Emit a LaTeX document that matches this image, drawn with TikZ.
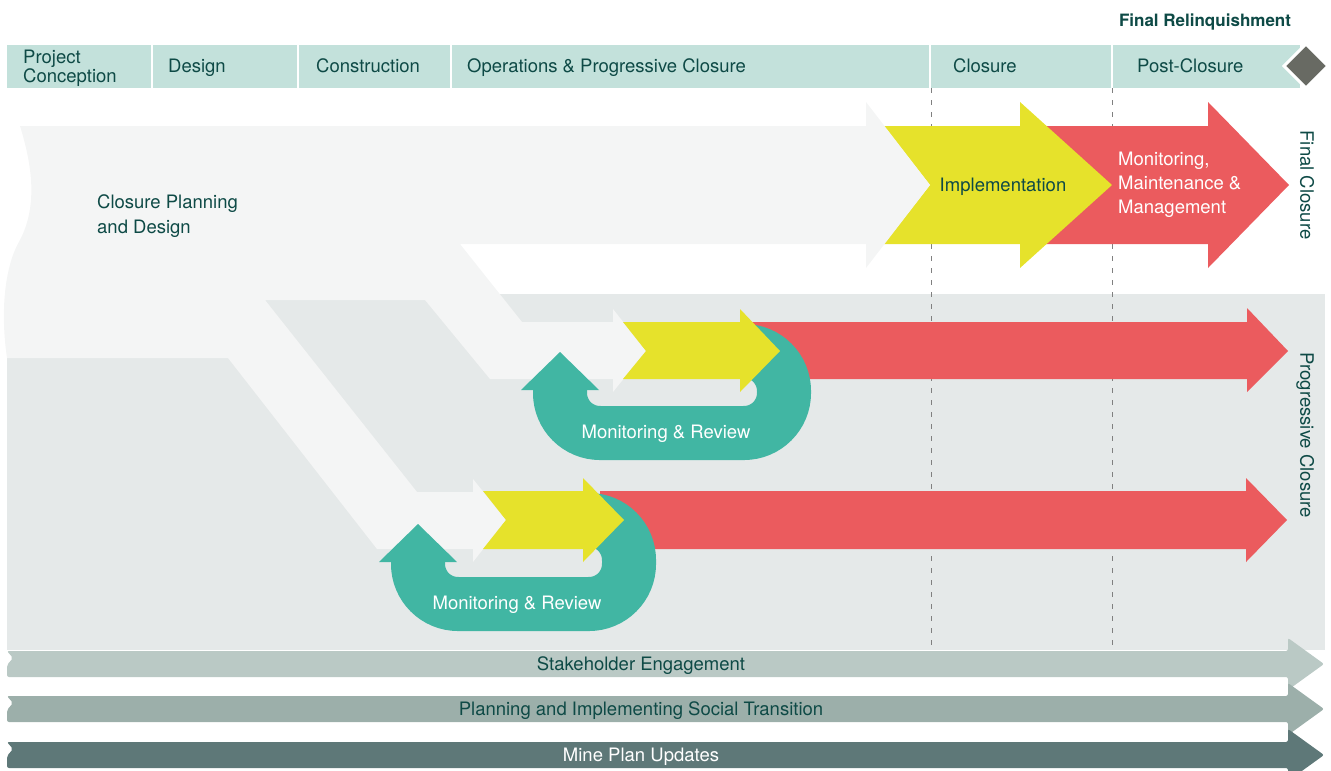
\documentclass[tikz,border=0pt]{standalone}
\usepackage{fontspec}
\setmainfont{TeX Gyre Heros}
\definecolor{hdr}{HTML}{C3E1DB}
\definecolor{ink}{HTML}{0E4A46}
\definecolor{pale}{HTML}{F4F5F5}
\definecolor{mist}{HTML}{E5E9E9}
\definecolor{lemon}{HTML}{E6E22B}
\definecolor{coral}{HTML}{EB5B5E}
\definecolor{jade}{HTML}{41B6A3}
\definecolor{slate}{HTML}{686A63}
\definecolor{bandA}{HTML}{BAC9C5}
\definecolor{bandB}{HTML}{9CAFAA}
\definecolor{bandC}{HTML}{5E7878}
\begin{document}
\begin{tikzpicture}[x=1pt,y=-1pt,font=\fontsize{18.5}{20}\selectfont,
    lbl/.style={text=ink,inner sep=0pt,text height=13.3pt,text depth=0pt},
    multi/.style={text=ink,inner sep=0pt,align=left,anchor=west},
    phase/.style={lbl,anchor=west},
    review/.style={draw=jade,line width=54pt,rounded corners=40pt}]
        \useasboundingbox (0,0) rectangle (1331,771);
        \fill[mist] (7,294) rectangle (1325,650);
        \foreach \x in {931,1112}
          \draw[gray,line width=1pt,dash pattern=on 5pt off 7pt] (\x,88) -- (\x,650);

        \fill[hdr] (7,45) rectangle (1300,88);
        \foreach \x in {152,298,451,930,1112}
          \draw[white,line width=1.5pt] (\x,45) -- (\x,88);
        \filldraw[fill=slate,draw=white,line width=3pt] (1306,44) -- (1328,66) -- (1306,88) -- (1284,66) -- cycle;
        \node[multi,font=\fontsize{18.5}{17}\selectfont] (conception) at (23,68) {Project\\Conception};
        \node[phase] (design) at (168,66) {Design};
        \node[phase] (construction) at (316,66) {Construction};
        \node[phase] (operations) at (467,66) {Operations \& Progressive Closure};
        \node[phase] (closure) at (953,66) {Closure};
        \node[phase] (postclosure) at (1137,66) {Post-Closure};
        \node[lbl,font=\bfseries\fontsize{17}{20}\selectfont] (relinq) at (1205,20) {Final Relinquishment};

        \fill[coral] (1040,126) -- (1208,126) -- (1208,102) -- (1289,185) -- (1208,268) -- (1208,244) -- (1040,244) -- cycle;
        \fill[lemon] (884,126) -- (1020,126) -- (1020,102) -- (1112,185) -- (1020,268) -- (1020,244) -- (884,244) -- (930,185) -- cycle;
        \fill[pale] (20,126) -- (866,126) -- (866,102) -- (930,185) -- (866,268) -- (866,244) -- (460,244)
          -- (522,322) -- (613,322) -- (613,309) -- (646,351) -- (613,392) -- (613,379) -- (490,379)
          -- (425,300) -- (265,300) -- (417,492) -- (473,492) -- (473,479) -- (506,520) -- (473,562) -- (473,549) -- (377,549)
          -- (228,358) -- (7,358) .. controls (0,310) and (5,265) .. (20,240) .. controls (38,205) and (32,165) .. (20,126) -- cycle;
        \node[multi,font=\fontsize{18.5}{25}\selectfont] (planning) at (97,216) {Closure Planning\\and Design};
        \node[lbl] (implement) at (1003,185) {Implementation};
        \node[multi,text=white,font=\fontsize{18.5}{24}\selectfont] (mmm) at (1118,185) {Monitoring,\\Maintenance \&\\Management};

        \fill[coral] (740,322) -- (1247,322) -- (1247,308) -- (1288,351) -- (1247,392) -- (1247,379) -- (740,379) -- cycle;
        \draw[review] (560,385) -- (560,433) -- (784,433) -- (784,351) -- (720,351);
        \fill[jade] (521,390) -- (560,352) -- (599,390) -- cycle;
        \fill[lemon] (623,322) -- (740,322) -- (740,309) -- (780,351) -- (740,392) -- (740,379) -- (623,379) -- (646,351) -- cycle;
        \node[lbl,text=white] (reviewA) at (666,432) {Monitoring \& Review};

        \fill[coral] (600,491) -- (1246,491) -- (1246,478) -- (1287,520) -- (1246,562) -- (1246,549) -- (600,549) -- cycle;
        \draw[review] (418,557) -- (418,604) -- (629,604) -- (629,520) -- (565,520);
        \fill[jade] (379,562) -- (418,524) -- (457,562) -- cycle;
        \fill[lemon] (483,491) -- (583,491) -- (583,478) -- (624,520) -- (583,562) -- (583,549) -- (483,549) -- (506,520) -- cycle;
        \node[lbl,text=white] (reviewB) at (517,603) {Monitoring \& Review};

        \node[lbl,rotate=-90] (finalcl) at (1307,185) {Final Closure};
        \node[lbl,rotate=-90] (progcl) at (1307,435) {Progressive Closure};

        \foreach \y/\c in {664/bandA,709/bandB,755/bandC}
          \fill[\c,rounded corners=2pt] (7,\y-13) -- (1288,\y-13) -- (1288,\y-26) -- (1324,\y) -- (1288,\y+26)
            -- (1288,\y+13) -- (7,\y+13) -- (7,\y+1) -- (13,\y-6) -- cycle;
        \node[lbl] (stake) at (641,664) {Stakeholder Engagement};
        \node[lbl] (social) at (641,709) {Planning and Implementing Social Transition};
        \node[lbl,text=white] (mineplan) at (641,755) {Mine Plan Updates};
      \end{tikzpicture}
\end{document}
